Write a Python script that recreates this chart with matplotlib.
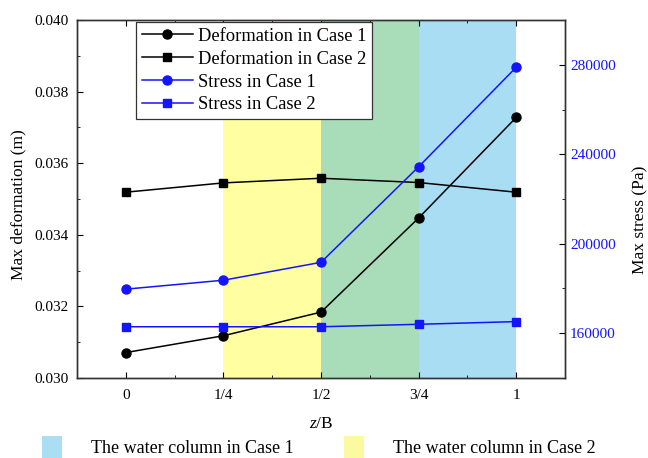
import numpy as np
import matplotlib
matplotlib.use('Agg')
import matplotlib.pyplot as plt
from matplotlib.patches import Patch
from matplotlib.ticker import MultipleLocator, FormatStrFormatter

plt.rcParams['font.family'] = ['Liberation Serif', 'DejaVu Serif']
plt.rcParams['mathtext.fontset'] = 'custom'
plt.rcParams['mathtext.it'] = 'Liberation Serif:italic'
plt.rcParams['mathtext.rm'] = 'Liberation Serif'

# z/B positions and labels
z_pos = [0, 0.25, 0.5, 0.75, 1.0]
z_labels = ['0', '1/4', '1/2', '3/4', '1']

# max deformation (m)
deform_case1 = [0.03071, 0.03118, 0.03184, 0.03447, 0.03728]
deform_case2 = [0.03519, 0.03545, 0.03558, 0.03546, 0.03519]

# max stress (Pa)
stress_case1 = [179700, 183700, 191700, 234400, 278900]
stress_case2 = [162900, 162900, 162900, 164000, 165200]

# water column extents along z/B
water_case1 = (0.5, 1.0)
water_case2 = (0.25, 0.75)

blue_fill = '#28ace1'
yellow_fill = '#ffff00'
stress_color = '#1414ff'

fig = plt.figure(figsize=(6.48, 4.58), dpi=100)
ax = fig.add_axes([0.1188, 0.1747, 0.7532, 0.7816])
ax2 = ax.twinx()

ax.axvspan(*water_case2, color=yellow_fill, alpha=0.37, lw=0, zorder=0)
ax.axvspan(*water_case1, color=blue_fill, alpha=0.4, lw=0, zorder=0)

l1, = ax.plot(z_pos, deform_case1, color='black', marker='o', ms=6.5, lw=1.1,
              label='Deformation in Case 1')
l2, = ax.plot(z_pos, deform_case2, color='black', marker='s', ms=6, lw=1.1,
              label='Deformation in Case 2')
l3, = ax2.plot(z_pos, stress_case1, color=stress_color, marker='o', ms=6.5, lw=1.1,
               label='Stress in Case 1')
l4, = ax2.plot(z_pos, stress_case2, color=stress_color, marker='s', ms=6, lw=1.1,
               label='Stress in Case 2')

ax.set_xlim(-0.125, 1.125)
ax.set_xticks(z_pos)
ax.set_xticklabels(z_labels)
ax.xaxis.set_minor_locator(MultipleLocator(0.125))
ax.set_ylim(0.030, 0.040)
ax.yaxis.set_major_locator(MultipleLocator(0.002))
ax.yaxis.set_minor_locator(MultipleLocator(0.001))
ax.yaxis.set_major_formatter(FormatStrFormatter('%.3f'))

ax2.set_ylim(140000, 300000)
ax2.yaxis.set_major_locator(MultipleLocator(40000))
ax2.yaxis.set_minor_locator(MultipleLocator(20000))

ax.tick_params(axis='both', which='both', direction='in', top=True, labelsize=11)
ax.tick_params(which='major', length=4)
ax.tick_params(which='minor', length=2)
ax.tick_params(axis='y', pad=6)
ax.tick_params(axis='x', pad=8)
ax2.tick_params(axis='y', which='both', direction='in', labelsize=11,
                labelcolor=stress_color)
ax2.tick_params(which='major', length=4)
ax2.tick_params(which='minor', length=2)

for spine in list(ax.spines.values()) + list(ax2.spines.values()):
    spine.set_color('#333333')
    spine.set_linewidth(1.0)

ax.set_ylabel('Max deformation (m)', fontsize=12.5)
ax.yaxis.set_label_coords(-0.104, 0.483)
ax2.set_ylabel('Max stress (Pa)', fontsize=12.5)
ax2.yaxis.set_label_coords(1.137, 0.441)
ax.set_xlabel('$z$/B', fontsize=12.5, labelpad=10)

leg = ax.legend(handles=[l1, l2, l3, l4], loc='upper left',
                bbox_to_anchor=(0.121, 0.994), fontsize=13.3, frameon=True,
                fancybox=False, edgecolor='#333333', framealpha=1,
                handlelength=2.8, borderpad=0.3, labelspacing=0.32,
                handletextpad=0.25, borderaxespad=0)
leg.get_frame().set_linewidth(0.9)

water_handles = [Patch(facecolor='#a9def3', edgecolor='none',
                       label='The water column in Case 1'),
                 Patch(facecolor='#fbfaa0', edgecolor='none',
                       label='The water column in Case 2')]
fig.legend(handles=water_handles, loc='lower left', bbox_to_anchor=(0.04, -0.038),
           ncol=2, frameon=False, fontsize=13, handlelength=1.1,
           handleheight=1.6, handletextpad=1.6, columnspacing=2.8)

fig.savefig('out.png', dpi=100)
